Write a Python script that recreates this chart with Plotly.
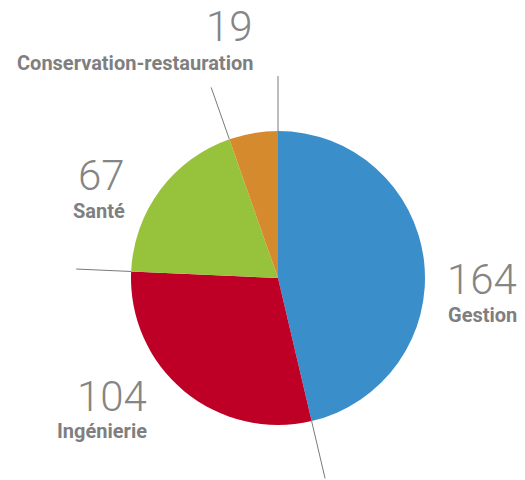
import math
import plotly.graph_objects as go

# ---- data ----
categories = ["Gestion", "Ingénierie", "Santé", "Conservation-restauration"]
values = [164, 104, 67, 19]
colors = ["#3a8fca", "#be0027", "#97c23c", "#d68a2e"]

# ---- layout constants (pixels) ----
W, H = 525, 480
CX, CY, R = 278, 278, 147
R_OUT = 202

# label anchor: (right edge x, number centre y, label centre y)
label_pos = {
    "Gestion": (519, 279, 315),
    "Ingénierie": (149, 396, 431),
    "Santé": (127, 175, 211),
    "Conservation-restauration": (255, 26, 63),
}

fig = go.Figure()

fig.add_trace(go.Pie(
    labels=categories, values=values, sort=False, direction="clockwise",
    rotation=0, marker=dict(colors=colors, line=dict(width=0)),
    textinfo="none", hoverinfo="label+value", showlegend=False,
    domain=dict(x=[(CX - R) / W, (CX + R) / W],
                y=[(H - CY - R) / H, (H - CY + R) / H]),
))

# leader lines along slice boundaries
total = sum(values)
cum = 0
for v in values:
    ang = math.radians(cum / total * 360)
    r_end = R_OUT + 4 * abs(math.cos(ang)) * (math.cos(ang) < 0)
    xs = [CX + R * math.sin(ang), CX + r_end * math.sin(ang)]
    ys = [CY - R * math.cos(ang), CY - r_end * math.cos(ang)]
    fig.add_trace(go.Scatter(x=xs, y=ys, mode="lines",
                             line=dict(color="#7a7a7a", width=1),
                             hoverinfo="skip", showlegend=False))
    cum += v

for cat, val in zip(categories, values):
    rx, ny, ly = label_pos[cat]
    fig.add_annotation(x=rx, y=ny, xref="x", yref="y", text=str(val),
                       showarrow=False, xanchor="right", yanchor="middle",
                       font=dict(family="Roboto", size=42, color="#858585", weight=300))
    fig.add_annotation(x=rx, y=ly, xref="x", yref="y", text=cat,
                       showarrow=False, xanchor="right", yanchor="middle",
                       font=dict(family="Roboto", size=20, color="#7f7f7f", weight="bold"))

fig.update_layout(
    width=W, height=H, margin=dict(l=0, r=0, t=0, b=0),
    paper_bgcolor="white", plot_bgcolor="rgba(0,0,0,0)",
    xaxis=dict(range=[0, W], visible=False, fixedrange=True, domain=[0, 1]),
    yaxis=dict(range=[H, 0], visible=False, fixedrange=True, domain=[0, 1]),
)

fig.write_html("out.html", config={"displayModeBar": False},
               post_script="document.body.style.margin='0';")
